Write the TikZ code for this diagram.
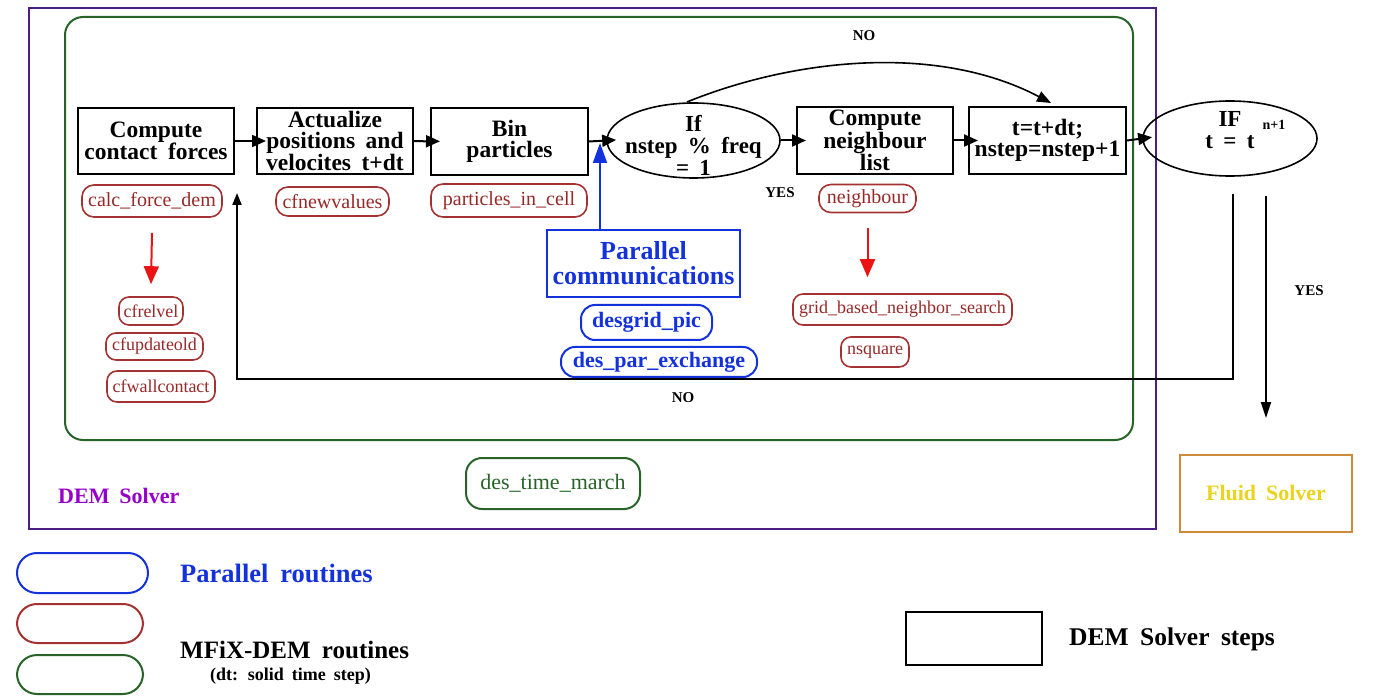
\documentclass[tikz,border=0pt]{standalone}
\usepackage{fontspec}
\setmainfont{Liberation Serif}[WordSpace=1.8]
\usetikzlibrary{shapes.geometric,arrows.meta,calc}
\definecolor{pframe}{RGB}{75,30,130}
\definecolor{gframe}{RGB}{40,100,40}
\definecolor{pillred}{RGB}{165,50,50}
\definecolor{pillredtxt}{RGB}{150,40,40}
\definecolor{arrred}{RGB}{235,20,20}
\definecolor{pblue}{RGB}{20,50,220}
\definecolor{demviolet}{RGB}{150,0,200}
\definecolor{fluidframe}{RGB}{205,140,60}
\definecolor{fluidtxt}{RGB}{235,210,30}
\begin{document}
\begin{tikzpicture}[x=1pt,y=-1pt,
  stepbox/.style={draw=black,line width=2pt,inner sep=0pt,align=center,
    font=\fontsize{23.5}{21}\selectfont\bfseries},
  cond/.style={ellipse,draw=black,line width=1.6pt,inner xsep=-30pt,inner ysep=-25pt,align=center,
    font=\fontsize{23}{22}\selectfont\bfseries},
  mpill/.style={draw=pillred,text=pillredtxt,rounded corners=12pt,line width=1.6pt,
    inner sep=0pt,font=\fontsize{20}{20}\selectfont},
  spill/.style={mpill,rounded corners=10pt,font=\fontsize{18}{18}\selectfont},
  bpill/.style={draw=pblue,text=pblue,rounded corners=14pt,line width=2pt,
    inner sep=0pt,font=\fontsize{22}{22}\selectfont\bfseries},
  arr/.style={line width=2pt,shorten >=-10pt,-{Triangle[length=14pt,width=12pt]}},
  redarr/.style={arrred,line width=2pt,-{Triangle[length=18pt,width=15pt]}},
  lbl/.style={inner sep=0pt,font=\fontsize{15}{15}\selectfont\bfseries},
]
\useasboundingbox (0,0) rectangle (1400,700);
% containers
\node[draw=pframe,line width=2.5pt,minimum width=1127pt,minimum height=521pt,inner sep=0pt] (dem) at (592.5,268.5) {};
\node[draw=gframe,line width=2pt,rounded corners=18pt,minimum width=1068pt,minimum height=423pt,inner sep=0pt] (march) at (599,228.5) {};
% steps
\node[stepbox,minimum width=156pt,minimum height=66pt] (b1) at (156,141) {Compute\\contact forces};
\node[stepbox,minimum width=156pt,minimum height=66pt] (b2) at (335,141) {Actualize\\positions and\\velocites t+dt};
\node[stepbox,minimum width=157pt,minimum height=67pt] (b3) at (509.5,141.5) {Bin\\particles};
\node[cond,minimum width=173pt,minimum height=75pt] (e1) at (693.5,140.5) {\rule{0pt}{26pt}If\\nstep \% freq\\= 1};
\node[stepbox,minimum width=156pt,minimum height=67pt] (b4) at (875,140.5) {Compute\\neighbour\\list};
\node[stepbox,minimum width=157pt,minimum height=67pt] (b5) at (1047.5,140.5) {t=t+dt;\\nstep=nstep+1};
\node[cond,minimum width=174pt,minimum height=75pt] (e2) at (1230,138.5) {IF\\\rule[-17pt]{0pt}{17pt}t = t\rlap{\hspace{8pt}\smash{\raisebox{19pt}{\fontsize{14}{14}\selectfont n+1}}}};
% routine pills
\node[mpill,minimum width=140pt,minimum height=32pt] (cfd) at (152,201) {calc\_force\_dem};
\node[mpill,minimum width=113pt,minimum height=29pt] (cfn) at (332.5,201.5) {cfnewvalues};
\node[mpill,minimum width=156pt,minimum height=33pt] (pic) at (509,200.5) {particles\_in\_cell};
\node[mpill,minimum width=97pt,minimum height=28pt] (nb) at (867.5,198.5) {neighbour};
\node[spill,minimum width=64pt,minimum height=28pt] (rel) at (151,311) {cfrelvel};
\node[spill,minimum width=97pt,minimum height=27pt] (upd) at (154.5,346.5) {cfupdateold};
\node[spill,minimum width=108pt,minimum height=31pt] (wall) at (161,386.5) {cfwallcontact};
\node[spill,minimum width=219pt,minimum height=31pt] (grid) at (902.5,309.5) {grid\_based\_neighbor\_search};
\node[spill,minimum width=68pt,minimum height=30pt] (nsq) at (875,352) {nsquare};
% parallel
\node[draw=pblue,text=pblue,line width=2pt,minimum width=193pt,minimum height=67pt,inner sep=0pt,align=center,
  font=\fontsize{26}{25}\selectfont\bfseries] (pc) at (643.5,263.5) {Parallel\\communications};
\node[bpill,minimum width=131pt,minimum height=35pt] (dgp) at (646.5,322.5) {desgrid\_pic};
\node[bpill,minimum width=196pt,minimum height=30pt] (dpe) at (659,362) {des\_par\_exchange};
% time march
\node[draw=gframe,text=gframe,line width=2pt,rounded corners=16pt,minimum width=174pt,minimum height=51pt,inner sep=0pt,
  font=\fontsize{22}{22}\selectfont] (dtm) at (553,483.5) {des\_time\_march};
\node[anchor=west,inner sep=0pt,text=demviolet,font=\fontsize{22}{22}\selectfont\bfseries] (demlbl) at (58,496) {DEM Solver};
% fluid
\node[draw=fluidframe,text=fluidtxt,line width=2pt,minimum width=172pt,minimum height=77pt,inner sep=0pt,
  font=\fontsize{22}{22}\selectfont\bfseries] (fluid) at (1266,493.5) {Fluid Solver};
% connectors
\draw[arr] (b1) -- (b2);
\draw[arr] (b2) -- (b3);
\draw[arr] (b3.east) -- (e1.west);
\draw[arr] (e1) -- (b4);
\draw[arr] (b4) -- (b5);
\draw[arr] (b5.east) -- (e2.west);
\coordinate (nofrom1) at (687,102);
\coordinate (notip) at (1051,103);
\draw[line width=1.6pt,-{Triangle[length=14pt,width=11pt]}] (nofrom1) .. controls (790,60) and (935,42) .. (notip);
\node[lbl] (nolbl1) at (864,36) {NO};
\node[lbl] (yeslbl1) at (780,193) {YES};
\coordinate (btip) at (600,143);
\draw[pblue,line width=2pt,-{Triangle[length=20pt,width=14pt]}] (pc.north -| btip) -- (btip);
\draw[redarr] ([yshift=-15pt]cfd.south) -- ([yshift=12pt]rel.north);
\draw[redarr] ([yshift=-15pt]nb.south) -- ([yshift=16pt]grid.north -| nb.south);
\coordinate (nofrom) at (1233,194);
\coordinate (noto) at (237,193);
\draw[line width=2pt,-{Triangle[length=12pt,width=9pt]}] (nofrom) -- (1233,379) -| (noto);
\node[lbl] (nolbl2) at (683,398) {NO};
\coordinate (yesfrom) at (1266,196);
\coordinate (yesto) at (1266,418);
\draw[line width=2pt,-{Triangle[length=16pt,width=10pt]}] (yesfrom) -- (yesto);
\node[lbl] (yeslbl2) at (1309,291) {YES};
% legend
\node[draw=pblue,line width=2pt,rounded corners=20pt,minimum width=131pt,minimum height=40pt,inner sep=0pt] (lgb) at (82.5,573) {};
\node[draw=pillred,line width=2pt,rounded corners=20pt,minimum width=126pt,minimum height=39pt,inner sep=0pt] (lgr) at (80,623.5) {};
\node[draw=gframe,line width=2pt,rounded corners=20pt,minimum width=126pt,minimum height=39pt,inner sep=0pt] (lgg) at (80,674.5) {};
\node[anchor=west,inner sep=0pt,text=pblue,font=\fontsize{26.5}{26}\selectfont\bfseries] (lgbt) at (180,573) {Parallel routines};
\node[anchor=west,inner sep=0pt,font=\fontsize{25}{25}\selectfont\bfseries] (lgrt) at (180,650) {MFiX-DEM routines};
\node[anchor=west,inner sep=0pt,font=\fontsize{18}{18}\selectfont\bfseries] (lggt) at (210,676) {(dt: solid time step)};
\node[draw=black,line width=2pt,minimum width=136pt,minimum height=53pt,inner sep=0pt] (lgs) at (974,638.5) {};
\node[anchor=west,inner sep=0pt,font=\fontsize{25.5}{25}\selectfont\bfseries] (lgst) at (1069,639) {DEM Solver steps};
\end{tikzpicture}
\end{document}
